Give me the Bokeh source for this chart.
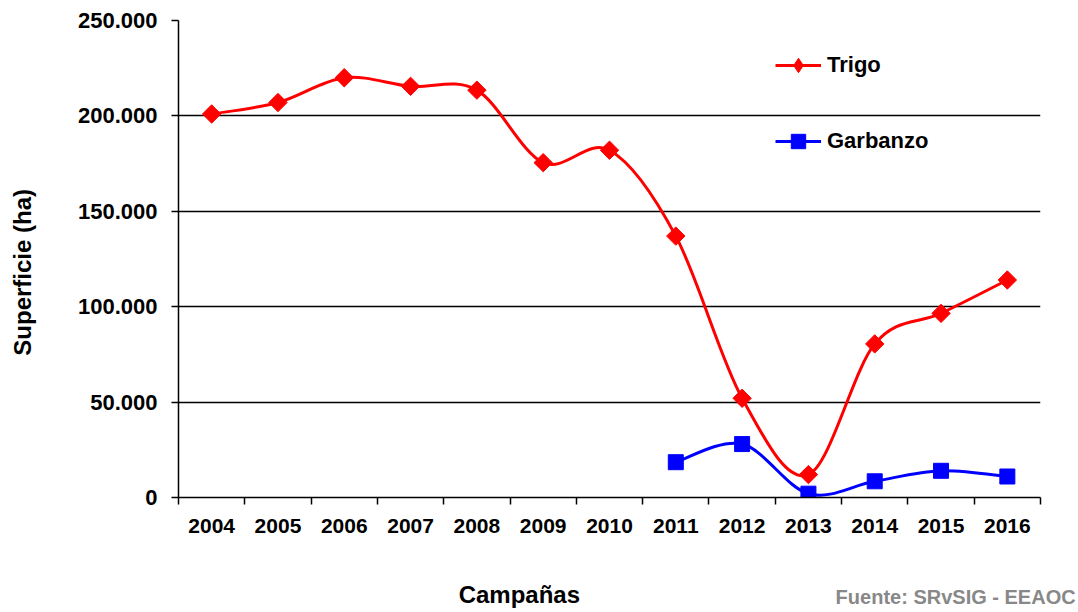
import math
from bokeh.plotting import figure
from bokeh.models import (Range1d, FixedTicker, Legend, LegendItem, LinearAxis,
                          ColumnDataSource)
from bokeh.embed import file_html
from bokeh.resources import INLINE

# ---------------- data ----------------
years = ["2004", "2005", "2006", "2007", "2008", "2009", "2010",
         "2011", "2012", "2013", "2014", "2015", "2016"]
trigo = [201000, 207000, 220000, 215500, 213500, 175500, 182000,
         137000, 52000, 12000, 80500, 96500, 114000]
garbanzo = [None, None, None, None, None, None, None,
            18500, 28000, 2000, 8500, 14000, 11000]
y_ticks = [0, 50000, 100000, 150000, 200000, 250000]

x_title = "Campañas"
y_title = "Superficie (ha)"
source_note = "Fuente: SRvSIG - EEAOC"

FONT = "Liberation Sans"

p = figure(width=1078, height=612, output_backend="svg", toolbar_location=None,
           x_range=Range1d(0, len(years)), y_range=Range1d(0, 250000),
           min_border_left=178, min_border_right=38, min_border_top=20,
           min_border_bottom=115)
p.outline_line_color = None
p.background_fill_color = "white"
p.border_fill_color = "white"

# ---------------- axes ----------------
xa = p.xaxis[0]
centers = [i + 0.5 for i in range(len(years))]
xa.ticker = FixedTicker(ticks=centers, minor_ticks=list(range(len(years) + 1)))
xa.major_label_overrides = {c: y for c, y in zip(centers, years)}
xa.major_tick_out = 0
xa.major_tick_in = 0
xa.minor_tick_out = 7
xa.minor_tick_in = 0
xa.minor_tick_line_color = "black"
xa.minor_tick_line_width = 1.5
xa.axis_line_color = "black"
xa.axis_line_width = 1.5
xa.major_label_text_font = FONT
xa.major_label_text_font_style = "bold"
xa.major_label_text_font_size = "21px"
xa.major_label_text_color = "black"
xa.major_label_standoff = 14

ya = p.yaxis[0]
ya.ticker = FixedTicker(ticks=y_ticks, minor_ticks=[])
ya.major_label_overrides = {t: f"{t:,}".replace(",", ".") for t in y_ticks}
ya.major_tick_out = 7
ya.major_tick_in = 0
ya.major_tick_line_color = "black"
ya.major_tick_line_width = 1.5
ya.axis_line_color = "black"
ya.axis_line_width = 1.5
ya.major_label_text_font = FONT
ya.major_label_text_font_style = "bold"
ya.major_label_text_font_size = "22px"
ya.major_label_text_color = "black"
ya.major_label_standoff = 14

p.xgrid.visible = False
p.ygrid.grid_line_color = "black"
p.ygrid.grid_line_width = 1.5


def text_axis(pos, text, size, color, standoff, orientation="horizontal"):
    ax = LinearAxis(ticker=FixedTicker(ticks=[pos], minor_ticks=[]),
                    major_label_overrides={pos: text})
    ax.axis_line_color = None
    ax.major_tick_line_color = None
    ax.minor_tick_line_color = None
    ax.major_tick_out = 0
    ax.major_tick_in = 0
    ax.minor_tick_out = 0
    ax.minor_tick_in = 0
    ax.major_label_text_font = FONT
    ax.major_label_text_font_style = "bold"
    ax.major_label_text_font_size = size
    ax.major_label_text_color = color
    ax.major_label_standoff = standoff
    ax.major_label_orientation = orientation
    return ax


# y-axis title (rotated), x-axis title and source note as label-only axes
p.add_layout(text_axis(118000, y_title, "24px", "black", 38, "vertical"), "left")
p.add_layout(text_axis(5.14, x_title, "24px", "black", 45), "below")
p.add_layout(text_axis(11.72, source_note, "20px", "#888888", -25), "below")


# smooth (Excel-like) curve segments built from the data points
def bezier_source(xs, ys):
    n = len(xs)
    d = dict(x0=[], y0=[], x1=[], y1=[], cx0=[], cy0=[], cx1=[], cy1=[])
    for i in range(n - 1):
        xm, ym = (xs[i - 1], ys[i - 1]) if i > 0 else (xs[i], ys[i])
        xp2, yp2 = (xs[i + 2], ys[i + 2]) if i + 2 < n else (xs[i + 1], ys[i + 1])
        d["x0"].append(xs[i]); d["y0"].append(ys[i])
        d["x1"].append(xs[i + 1]); d["y1"].append(ys[i + 1])
        d["cx0"].append(xs[i] + (xs[i + 1] - xm) / 6)
        d["cy0"].append(ys[i] + (ys[i + 1] - ym) / 6)
        d["cx1"].append(xs[i + 1] - (xp2 - xs[i]) / 6)
        d["cy1"].append(ys[i + 1] - (yp2 - ys[i]) / 6)
    return ColumnDataSource(d)


tx = centers
ty = trigo
gx = [c for c, v in zip(centers, garbanzo) if v is not None]
gy = [v for v in garbanzo if v is not None]

RED = "#FF0000"
BLUE = "#0000FF"

t_curve = p.bezier(x0="x0", y0="y0", x1="x1", y1="y1", cx0="cx0", cy0="cy0",
                   cx1="cx1", cy1="cy1", source=bezier_source(tx, ty),
                   line_color=RED, line_width=3)
# diamond symbol (used by the legend; covered by the square diamonds below)
t_key = p.scatter(tx, ty, marker="diamond", size=15,
                  fill_color=RED, line_color=RED)
t_mark = p.scatter(tx, ty, marker="square", angle=math.pi / 4, size=13,
                   fill_color=RED, line_color=RED)
g_curve = p.bezier(x0="x0", y0="y0", x1="x1", y1="y1", cx0="cx0", cy0="cy0",
                   cx1="cx1", cy1="cy1", source=bezier_source(gx, gy),
                   line_color=BLUE, line_width=3)
g_mark = p.scatter(gx, gy, marker="square", size=15,
                   fill_color=BLUE, line_color=BLUE)

legend = Legend(items=[
    LegendItem(label="Trigo", renderers=[t_curve, t_key], index=0),
    LegendItem(label="Garbanzo", renderers=[g_curve, g_mark], index=0),
], location=(597, 338))
legend.glyph_width = 46
legend.glyph_height = 36
legend.label_height = 36
legend.spacing = 40
legend.padding = 0
legend.margin = 0
legend.label_standoff = 6
legend.border_line_alpha = 0
legend.background_fill_alpha = 0
legend.label_text_font = FONT
legend.label_text_font_style = "bold"
legend.label_text_font_size = "22px"
legend.label_text_color = "black"
p.add_layout(legend)

open("out.html", "w").write(file_html(p, INLINE))
